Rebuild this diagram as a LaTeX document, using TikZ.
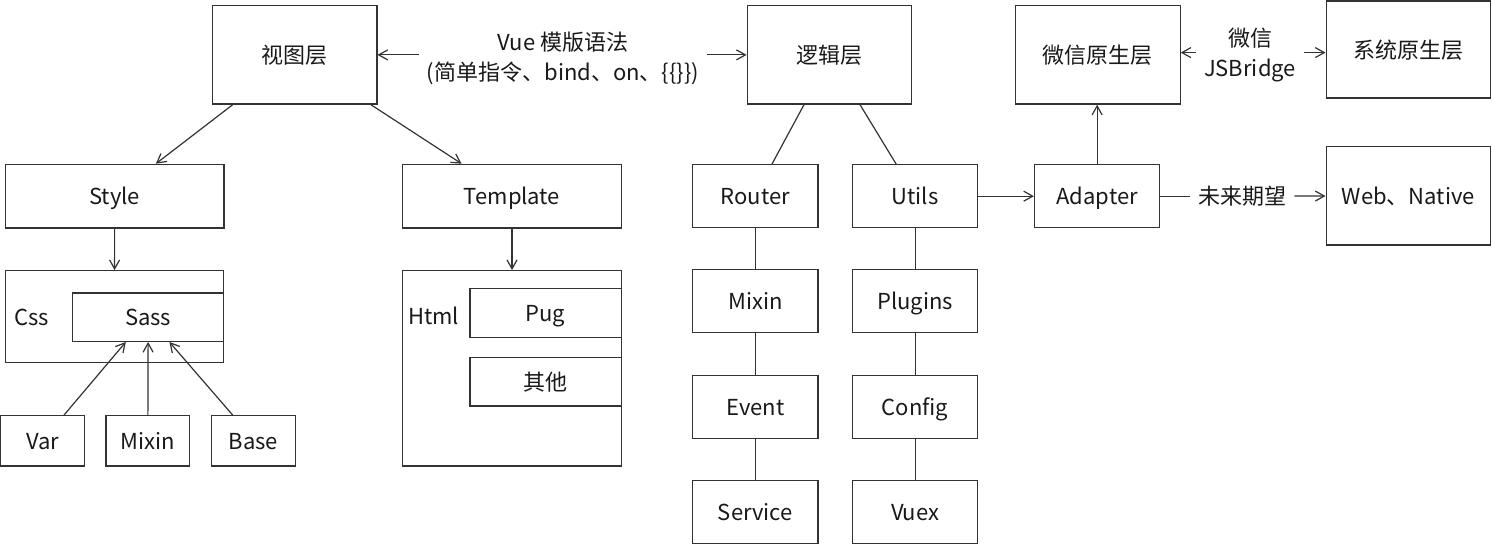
\documentclass[tikz,border=0pt]{standalone}
\usepackage{fontspec}
\setmainfont{Noto Sans CJK SC}
\usetikzlibrary{arrows.meta}
\begin{document}
\begin{tikzpicture}[x=0.5pt,y=-0.5pt,
    box/.style={draw=black!80,line width=0.6pt,inner sep=0pt,text=black!90,
      text height=0.88em,text depth=0pt,font=\fontsize{11pt}{15pt}\selectfont},
    lbl/.style={inner sep=4pt,align=center,text=black!90,
      font=\fontsize{11pt}{15pt}\selectfont},
    big/.style={box,minimum width=82.2pt,minimum height=49.2pt},
    wide/.style={box,minimum width=109.3pt,minimum height=31.9pt},
    small/.style={box,minimum width=62.6pt,minimum height=31.6pt},
    tiny/.style={box,minimum width=41.8pt,minimum height=25.2pt},
    part/.style={box,minimum width=75.6pt,minimum height=24.2pt}]
      \useasboundingbox (0,0) rectangle (1492,544);
      \path
        (294.7,54.9) node[big] (view){视图层}
        (829.4,54.9) node[big] (logic){逻辑层}
        (1097.9,54.9) node[big] (wx){微信原生层}
        (1408.3,49.5) node[big,minimum height=48.5pt] (sys){系统原生层}
        (563,58) node[lbl] (vue){Vue 模版语法\\(简单指令、bind、on、\{\{\}\})}
        (1250,55) node[lbl] (jsb){微信\\JSBridge}
        (114.7,196.2) node[wide] (style){Style}
        (512,196.2) node[wide] (tmpl){Template}
        (755.4,196.2) node[small] (router){Router}
        (915.1,196.2) node[small] (utils){Utils}
        (1097.1,196.2) node[small] (adapter){Adapter}
        (1242,196.2) node[lbl,text height=0.88em,text depth=0pt] (future){未来期望}
        (1408.3,195.9) node[big] (web){Web、Native}
        (114.5,316.7) node[box,minimum width=109.2pt,minimum height=46pt] (css){}
        (31.8,316.7) node[lbl,inner sep=0pt,text height=0.88em,text depth=0pt] (csstext){Css}
        (148.2,317.2) node[part] (sass){Sass}
        (42.6,440.9) node[tiny] (var){Var}
        (147.8,440.9) node[tiny] (smixin){Mixin}
        (253.3,440.9) node[tiny] (base){Base}
        (512,368.4) node[box,minimum width=109.2pt,minimum height=97.7pt] (html){}
        (433.5,316) node[lbl,inner sep=0pt,text height=0.88em,text depth=0pt] (htmltext){Html}
        (545.5,313) node[part] (pug){Pug}
        (545.5,381.9) node[part] (other){其他}
        (755.4,301.2) node[small] (mixin){Mixin}
        (755.4,406.9) node[small] (event){Event}
        (755.4,511.7) node[small] (service){Service}
        (915.1,301.2) node[small] (plugins){Plugins}
        (915.1,406.9) node[small] (config){Config}
        (915.1,511.7) node[small] (vuex){Vuex};
      \begin{scope}[line width=0.6pt,draw=black!80,-{Straight Barb[length=4.5pt,width=5pt]}]
        \draw (vue.west |- view.east) to (view.east);
        \draw (vue.east |- logic.west) to (logic.west);
        \draw ([yshift=1.2pt]jsb.west) to ([yshift=1.2pt]jsb.west -| wx.east);
        \draw ([yshift=1.2pt]jsb.east) to ([yshift=1.2pt]jsb.east -| sys.west);
        \draw ([xshift=-31pt]view.south) to ([xshift=20.6pt]style.north);
        \draw ([xshift=38.1pt]view.south) to ([xshift=-25.2pt]tmpl.north);
        \draw (style) to (css);
        \draw (tmpl) to (html);
        \draw ([xshift=10.7pt]var.north) to ([xshift=-11.2pt]sass.south);
        \draw (smixin) to (sass);
        \draw ([xshift=-10.3pt]base.north) to ([xshift=10.6pt]sass.south);
        \draw (utils) to (adapter);
        \draw (adapter) to (adapter |- wx.south);
        \draw (future) to (web);
      \end{scope}
      \begin{scope}[line width=0.6pt,draw=black!80,-]
        \draw ([xshift=-12.7pt]logic.south) to ([xshift=8.3pt]router.north);
        \draw ([xshift=15.3pt]logic.south) to ([xshift=-9.5pt]utils.north);
        \draw (router) to (mixin);
        \draw (mixin) to (event);
        \draw (event) to (service);
        \draw (utils) to (plugins);
        \draw (plugins) to (config);
        \draw (config) to (vuex);
        \draw (adapter) to (future);
      \end{scope}
    \end{tikzpicture}
\end{document}
